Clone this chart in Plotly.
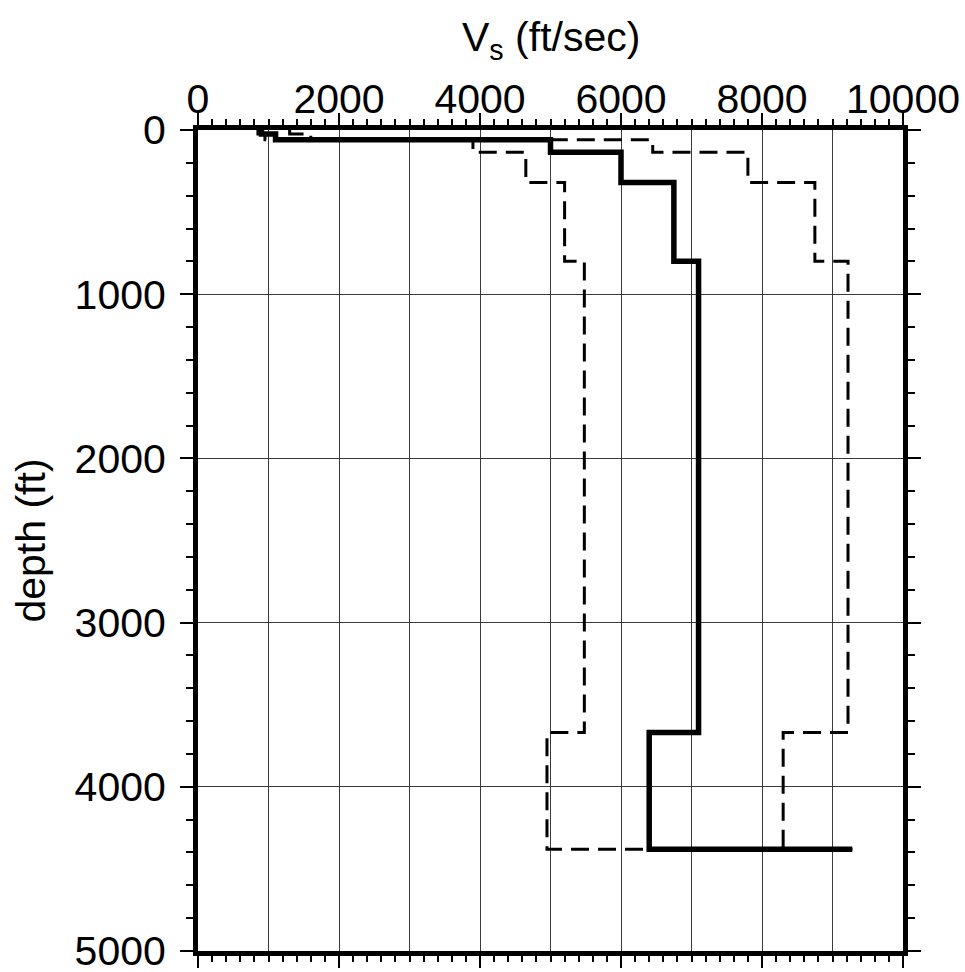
import plotly.graph_objects as go

# Layer top depths (ft) and shear-wave velocities (ft/sec)
layer_tops = [0, 25, 60, 135, 320, 800, 3670, 4380]
vs_median = [900, 1100, 5000, 6000, 6750, 7100, 6400, 9280]
vs_lower = [850, 950, 3900, 4650, 5200, 5480, 4950, 9280]
vs_upper = [1300, 1600, 6450, 7800, 8750, 9220, 8300, 9280]

x_range = [0, 10000]
y_range = [5000, 0]
x_label_ticks = [0, 2000, 4000, 6000, 8000, 10000]
y_label_ticks = [0, 1000, 2000, 3000, 4000, 5000]

FONT = "Liberation Sans, Arial, Helvetica, sans-serif"
FS = 41

fig = go.Figure()

def profile(v, dash, width):
    return go.Scatter(
        x=v, y=layer_tops, mode="lines", line_shape="vh",
        line=dict(color="black", width=width, dash=dash),
        hoverinfo="skip", showlegend=False,
    )

fig.add_trace(profile(vs_lower, "18px,9px", 3))
fig.add_trace(profile(vs_upper, "18px,9px", 3))
fig.add_trace(profile(vs_median, "solid", 5.5))
# invisible helper traces so the overlay axes are drawn
fig.add_trace(go.Scatter(x=vs_median, y=layer_tops, xaxis="x2", yaxis="y2",
                         mode="lines", line=dict(width=0), opacity=0,
                         hoverinfo="skip", showlegend=False))
fig.add_trace(go.Scatter(x=vs_median, y=layer_tops, xaxis="x3", yaxis="y2",
                         mode="lines", line=dict(width=0), opacity=0,
                         hoverinfo="skip", showlegend=False))

tick_common = dict(ticks="outside", tickcolor="black", tickwidth=2, automargin=False,
                   ticklabeloverflow="allow")
minor_x = dict(dtick=200, ticklen=6, ticks="outside", tickcolor="black", tickwidth=2)
minor_y = dict(dtick=200, ticklen=7, ticks="outside", tickcolor="black", tickwidth=2)

fig.update_layout(
    width=965, height=972,
    margin=dict(l=198, r=62, t=130, b=21),
    paper_bgcolor="white", plot_bgcolor="white",
    font=dict(family=FONT, size=FS, color="black"),
    xaxis=dict(
        range=x_range, dtick=1000, showgrid=True, gridcolor="#3a3a3a", gridwidth=1,
        showticklabels=False, ticks="", zeroline=False, showline=False, automargin=False,
    ),
    xaxis2=dict(
        overlaying="x", side="top", anchor="y", range=x_range,
        tickvals=x_label_ticks, tickformat="d", ticklen=12, **tick_common,
        minor=minor_x,
        showline=True, linewidth=5, linecolor="black", showgrid=False, zeroline=False,
        tickfont=dict(size=FS), ticklabelstandoff=-16,
    ),
    xaxis3=dict(
        overlaying="x", side="bottom", anchor="y", range=x_range,
        tickvals=x_label_ticks, ticklen=12, **tick_common,
        minor=minor_x,
        showline=True, linewidth=5, linecolor="black", showgrid=False, zeroline=False,
        showticklabels=False,
    ),
    yaxis=dict(
        range=y_range, tickvals=y_label_ticks, tickformat="d",
        showgrid=True, gridcolor="#3a3a3a", gridwidth=1,
        ticklen=13, **tick_common,
        minor=minor_y,
        showline=True, linewidth=5, linecolor="black", zeroline=False,
        tickfont=dict(size=FS), ticklabelstandoff=6,
        title=dict(text="depth (ft)", font=dict(size=FS), standoff=18),
    ),
    yaxis2=dict(
        overlaying="y", side="right", anchor="x", range=y_range,
        tickvals=y_label_ticks, ticklen=13, **tick_common,
        minor=minor_y,
        showline=True, linewidth=5, linecolor="black", showgrid=False, zeroline=False,
        showticklabels=False,
    ),
    annotations=[dict(
        text="V<sub>s</sub> (ft/sec)", xref="paper", yref="paper",
        x=0.5, y=(951 - 40) / 821, xanchor="center", yanchor="middle",
        showarrow=False, font=dict(size=FS, family=FONT, color="black"),
    )],
)

fig.write_html("out.html")
